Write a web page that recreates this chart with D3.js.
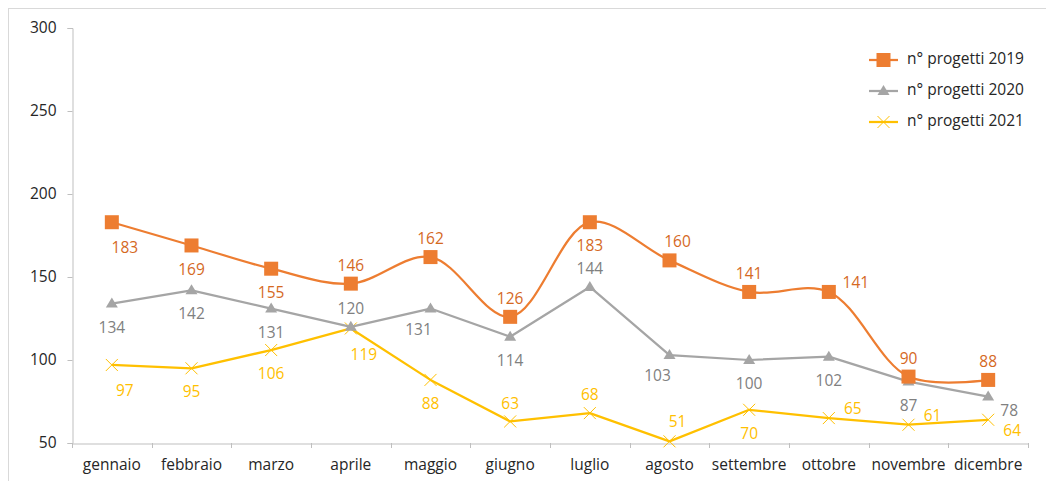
<!DOCTYPE html>
<html><head><meta charset="utf-8">
<script src="https://cdn.jsdelivr.net/npm/d3@7"></script>
<style>
html,body{margin:0;padding:0;background:#fff;}
svg{display:block;font-family:"Open Sans","Liberation Sans",sans-serif;}
</style></head>
<body><svg id="c" width="1046" height="481"></svg>
<script>
const months = ["gennaio","febbraio","marzo","aprile","maggio","giugno","luglio","agosto","settembre","ottobre","novembre","dicembre"];
const s2019 = [183,169,155,146,162,126,183,160,141,141,90,88];
const s2020 = [134,142,131,120,131,114,144,103,100,102,87,78];
const s2021 = [97,95,106,119,88,63,68,51,70,65,61,64];
const yTicks = [50,100,150,200,250,300];
const seriesNames = ["n° progetti 2019","n° progetti 2020","n° progetti 2021"];
// label placement codes (b=below, a=above, r=right, etc.)
const pos2019 = ["br","b","b","a","a","a","b","ar","a","r","a","a"];
const pos2020 = ["b","b","b","a","bl","b","a","bl","b","b","b","rb"];
const pos2021 = ["br","b","b","br","b","a","a","ar","b","r","r","r"];

const svg = d3.select("#c");
const m = {left:72, right:1028, top:28, bottom:443};
const FS = "15.5px";

svg.append("rect").attr("x",8.5).attr("y",8.5).attr("width",1100).attr("height",600)
  .attr("fill","none").attr("stroke","#D9D9D9").attr("stroke-width",1);

const x = d3.scaleBand().domain(months).range([m.left, m.right]);
const y = d3.scaleLinear().domain([50,300]).range([m.bottom, m.top]);

// y axis
const ya = svg.append("g").attr("transform",`translate(${m.left+0.5},0)`)
  .call(d3.axisLeft(y).tickValues(yTicks).tickSize(5).tickPadding(11));
ya.select(".domain").attr("stroke","#BFBFBF");
ya.selectAll(".tick line").attr("stroke","#BFBFBF");
ya.selectAll(".tick text").attr("fill","#262626").style("font-size",FS).attr("font-family","Open Sans, Liberation Sans, sans-serif");

// x axis
const xa = svg.append("g").attr("transform",`translate(0,${m.bottom+0.5})`)
  .call(d3.axisBottom(x).tickSize(0).tickPadding(15));
xa.select(".domain").attr("stroke","#BFBFBF");
xa.selectAll(".tick text").attr("fill","#262626").style("font-size",FS).attr("font-family","Open Sans, Liberation Sans, sans-serif");
// category separators
const bounds = months.map(d=>x(d)).concat([m.right]);
svg.append("g").selectAll("line").data(bounds).join("line")
  .attr("x1",d=>Math.round(d)+0.5).attr("x2",d=>Math.round(d)+0.5)
  .attr("y1",m.bottom).attr("y2",m.bottom+5).attr("stroke","#BFBFBF");

const cx = d => x(d) + x.bandwidth()/2;

const series = [
  {name:seriesNames[0], vals:s2019, pos:pos2019, color:"#ED7D31", label:"#D5691F", curve:d3.curveCatmullRom.alpha(0.5), marker:"square"},
  {name:seriesNames[1], vals:s2020, pos:pos2020, color:"#A5A5A5", label:"#808080", curve:d3.curveLinear, marker:"triangle"},
  {name:seriesNames[2], vals:s2021, pos:pos2021, color:"#FFC000", label:"#FFC000", curve:d3.curveLinear, marker:"x"}
];

function drawMarker(g, type, color){
  if(type==="square"){
    g.append("rect").attr("x",-7).attr("y",-7).attr("width",14).attr("height",14).attr("fill",color);
  } else if(type==="triangle"){
    g.append("path").attr("d","M0,-6L6,4L-6,4Z").attr("fill",color);
  } else {
    g.append("path").attr("d","M-6,-6L6,6M-6,6L6,-6").attr("stroke",color).attr("stroke-width",1).attr("fill","none");
  }
}

const offs = {
  "a":[0,-17], "b":[0,25], "br":[13,27], "bl":[-12,22], "ar":[8,-18],
  "r":[27,-8], "rb":[21,15]
};

[series[2], series[1], series[0]].forEach(s=>{
  const line = d3.line().x((d,i)=>cx(months[i])).y(d=>y(d)).curve(s.curve);
  svg.append("path").datum(s.vals).attr("d",line).attr("fill","none")
    .attr("stroke",s.color).attr("stroke-width",2.25).attr("stroke-linejoin","round");
  s.vals.forEach((v,i)=>{
    const g = svg.append("g").attr("transform",`translate(${cx(months[i])},${y(v)})`);
    drawMarker(g, s.marker, s.color);
  });
});
// labels
series.forEach(s=>{
  s.vals.forEach((v,i)=>{
    let o = offs[s.pos[i]];
    if(s.marker==="x" && s.pos[i]==="r") o=[24,-8];
    if(s.marker==="x" && i===11) o=[24,12];
    svg.append("text").attr("x",cx(months[i])+o[0]).attr("y",y(v)+o[1])
      .attr("text-anchor","middle").attr("dominant-baseline","middle")
      .attr("fill",s.label).style("font-size",FS).text(v);
  });
});

// legend
const lg = svg.append("g");
series.forEach((s,i)=>{
  const ly = 60 + i*31;
  lg.append("line").attr("x1",869).attr("x2",898).attr("y1",ly).attr("y2",ly)
    .attr("stroke",s.color).attr("stroke-width",2.25);
  const mg = lg.append("g").attr("transform",`translate(883.5,${ly})`);
  drawMarker(mg, s.marker, s.color);
  lg.append("text").attr("x",907).attr("y",ly).attr("dominant-baseline","middle")
    .attr("fill","#262626").style("font-size",FS).text(s.name);
});
</script></body></html>
